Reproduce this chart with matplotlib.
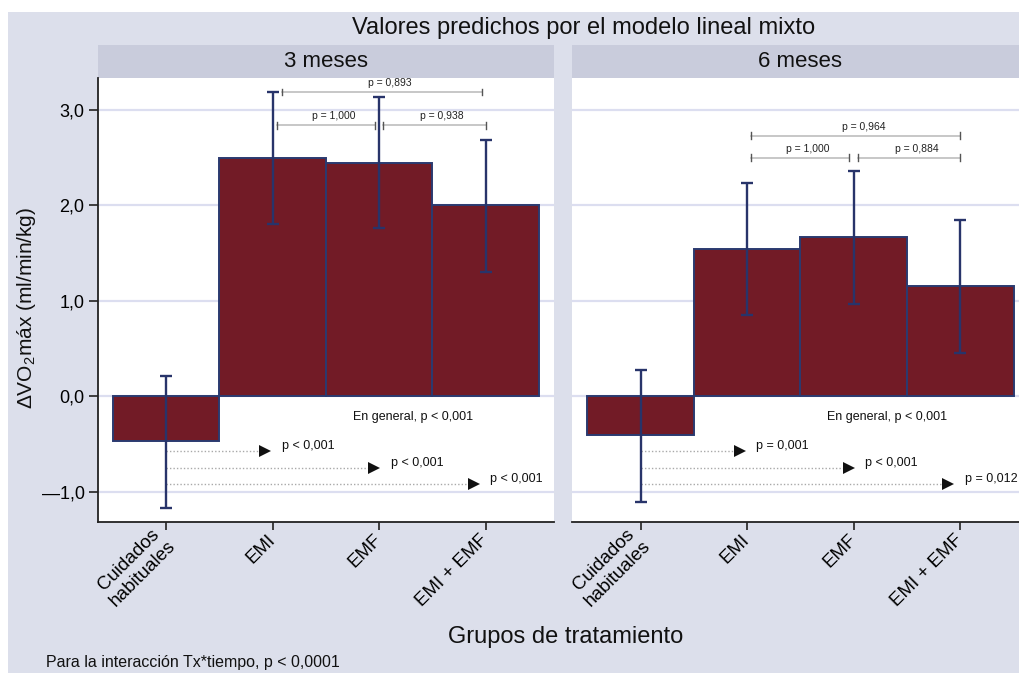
import matplotlib
matplotlib.use("Agg")
import matplotlib.pyplot as plt
from matplotlib.patches import Rectangle
import numpy as np

plt.rcParams['font.family'] = ['Liberation Sans', 'DejaVu Sans']

# ---------------- data ----------------
categories = ["Cuidados\nhabituales", "EMI", "EMF", "EMI + EMF"]
panels = ["3 meses", "6 meses"]

means_3m = [-0.47, 2.50, 2.45, 2.00]
low_3m = [-1.17, 1.81, 1.76, 1.30]
high_3m = [0.21, 3.19, 3.14, 2.69]

means_6m = [-0.41, 1.54, 1.67, 1.15]
low_6m = [-1.11, 0.85, 0.97, 0.45]
high_6m = [0.27, 2.23, 2.36, 1.85]

# pairwise comparisons among active groups: (from, to, label, level)
pairs_3m = [(1, 3, "p = 0,893", 3.19), (1, 2, "p = 1,000", 2.84), (2, 3, "p = 0,938", 2.84)]
pairs_6m = [(1, 3, "p = 0,964", 2.73), (1, 2, "p = 1,000", 2.50), (2, 3, "p = 0,884", 2.50)]

# comparisons against usual care: (target group, label, level)
vs_ref_3m = [(1, "p < 0,001", -0.57), (2, "p < 0,001", -0.75), (3, "p < 0,001", -0.92)]
vs_ref_6m = [(1, "p = 0,001", -0.57), (2, "p < 0,001", -0.75), (3, "p = 0,012", -0.92)]

overall_3m = "En general, p < 0,001"
overall_6m = "En general, p < 0,001"

yticks = [-1, 0, 1, 2, 3]
ytick_labels = ["\u20141,0", "0,0", "1,0", "2,0", "3,0"]

title = "Valores predichos por el modelo lineal mixto"
ylabel = "\u0394VO$_{\\mathregular{2}}$m\u00e1x (ml/min/kg)"
xlabel = "Grupos de tratamiento"
footer = "Para la interacci\u00f3n Tx*tiempo, p < 0,0001"

# ---------------- style ----------------
BG = "#dcdfeb"
STRIP = "#c9ccdc"
GRID = "#dcdef0"
BAR = "#721b26"
EDGE = "#2b3a70"
ERR = "#28346a"

W, H = 1019, 673
fig = plt.figure(figsize=(W / 100, H / 100), dpi=100)
fig.patch.set_facecolor("white")
fig.add_artist(Rectangle((8 / W, 0), 1, 1 - 12 / H, transform=fig.transFigure,
                         facecolor=BG, edgecolor="none", zorder=0))

def px_box(left, top, right, bottom):
    return [left / W, 1 - bottom / H, (right - left) / W, (bottom - top) / H]

ax_top, ax_bot = 78, 521.7
lefts = [97.7, 572.3]
pw = 456.3
strip_h = 33

datasets = [
    (means_3m, low_3m, high_3m, pairs_3m, vs_ref_3m, overall_3m),
    (means_6m, low_6m, high_6m, pairs_6m, vs_ref_6m, overall_6m),
]

x = np.arange(len(categories))
for i, (m, lo, hi, pairs, vsr, overall) in enumerate(datasets):
    ax = fig.add_axes(px_box(lefts[i], ax_top, lefts[i] + pw, ax_bot))
    ax.set_facecolor("white")
    ax.set_xlim(-0.64, 3.64)
    ax.set_ylim(-1.316, 3.336)
    for yv in yticks:
        ax.axhline(yv, color=GRID, lw=1.6, zorder=1)
    m = np.array(m); lo = np.array(lo); hi = np.array(hi)
    ax.bar(x, m, width=1.0, color=BAR, edgecolor=EDGE, linewidth=1.4, zorder=2)
    ax.errorbar(x, m, yerr=[m - lo, hi - m], fmt="none", ecolor=ERR,
                elinewidth=1.7, capsize=4.5, capthick=1.7, zorder=4)

    # pairwise brackets
    for a, b, lab, lev in pairs:
        xa = a + (0.09 if (a == 1 and b == 3 and i == 0) else 0.04)
        xb = b - (0.035 if (a == 1 and b == 3 and i == 0) else (0.04 if b == 2 else 0.0))
        ax.plot([xa, xb], [lev, lev], color="#b8b8b8", lw=1.1, zorder=3)
        for xe in (xa, xb):
            ax.plot([xe, xe], [lev - 0.035, lev + 0.035], color="#555555", lw=1.0, zorder=3)
        ax.text((xa + xb) / 2 + 0.07, lev + 0.04, lab, fontsize=7.5, ha="center",
                va="bottom", color="#222222", zorder=5)

    # comparisons vs usual care
    for tgt, lab, lev in vsr:
        tip = tgt - (0.025 if tgt == 1 else (0.0 if tgt == 2 else 0.07))
        ax.plot([0, tip - 0.08], [lev, lev], color="#a9a9a9", lw=1.0,
                linestyle=(0, (1, 1.5)), zorder=3)
        ax.plot([tip - 0.045], [lev], marker=">", color="#111111", markersize=9,
                markeredgewidth=0, zorder=5)
        ax.text(tip + 0.11, lev + 0.05, lab, fontsize=9, ha="left", va="center",
                color="#111111", zorder=5)

    ax.text(1.75, -0.22, overall, fontsize=9, ha="left", va="center", color="#111111")

    # strip
    ax.add_patch(Rectangle((0, 1), 1, strip_h / (ax_bot - ax_top), transform=ax.transAxes,
                           facecolor=STRIP, edgecolor="none", clip_on=False, zorder=0))
    ax.text(0.5, 1 + strip_h / 2 / (ax_bot - ax_top), panels[i], transform=ax.transAxes,
            ha="center", va="center", fontsize=16, color="#111111")

    for s in ("top", "right"):
        ax.spines[s].set_visible(False)
    ax.spines["bottom"].set_color("#222222")
    ax.spines["bottom"].set_linewidth(1.3)
    ax.set_xticks(x)
    ax.set_xticklabels(categories, rotation=45, ha="right", va="center",
                       rotation_mode="anchor", fontsize=13.5, multialignment="center")
    ax.tick_params(axis="x", length=6, width=1.2, color="#222222", pad=5)
    ax.set_yticks(yticks)
    if i == 0:
        ax.spines["left"].set_color("#222222")
        ax.spines["left"].set_linewidth(1.3)
        ax.set_yticklabels(ytick_labels, fontsize=13)
        ax.tick_params(axis="y", length=6.5, width=1.2, color="#222222", pad=3)
    else:
        ax.spines["left"].set_visible(False)
        ax.tick_params(axis="y", length=0, labelleft=False)

fig.text(584 / W, 1 - 28 / H, title, ha="center", va="center", fontsize=17, color="#111111")
fig.text(27 / W, 1 - 308 / H, ylabel, ha="center", va="center", rotation=90,
         fontsize=15, color="#111111")
fig.text(566 / W, 1 - 637 / H, xlabel, ha="center", va="center", fontsize=17, color="#111111")
fig.text(46 / W, 1 - 662 / H, footer, ha="left", va="center", fontsize=11.5, color="#111111")

fig.savefig("out.png", dpi=100)
